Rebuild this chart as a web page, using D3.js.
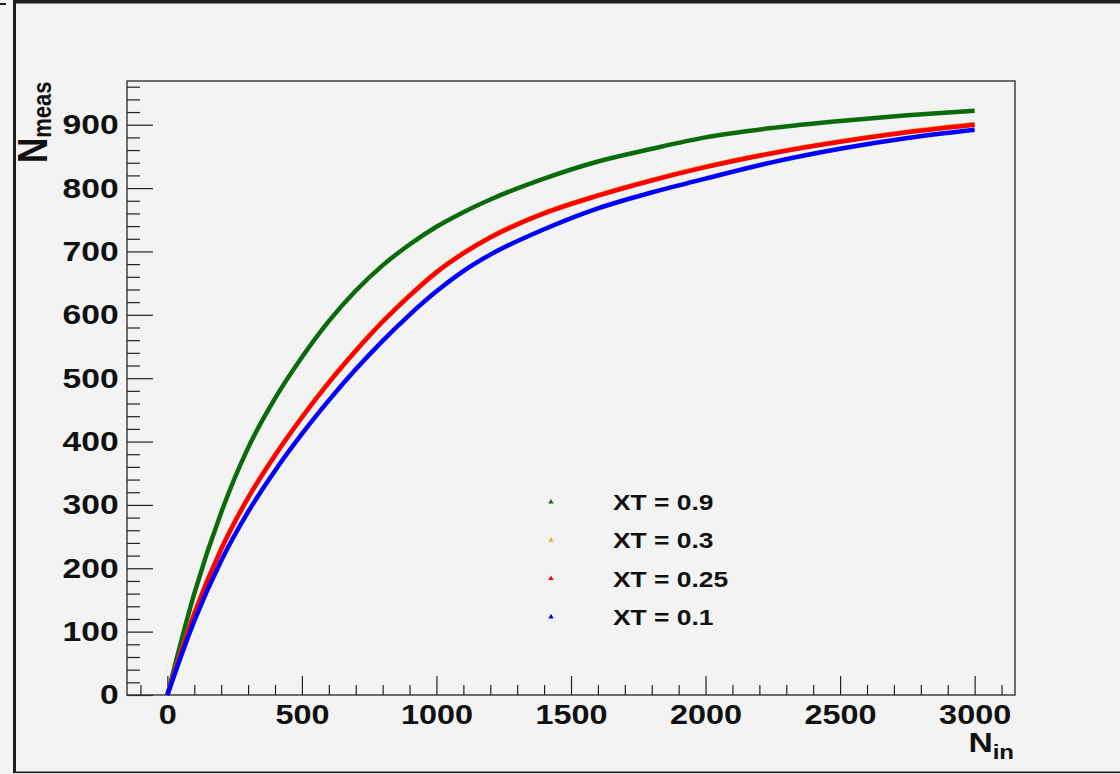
<!DOCTYPE html>
<html>
<head>
<meta charset="utf-8">
<script src="https://cdn.jsdelivr.net/npm/d3@7"></script>
<style>
  html, body { margin: 0; padding: 0; background: #f3f3f3; }
  svg { display: block; }
  text { font-family: "Liberation Sans", Arial, Helvetica, sans-serif; font-weight: bold; fill: #111; }
</style>
</head>
<body>
<div id="chart"></div>
<script>
const nIn = [0, 100, 200, 300, 400, 500, 600, 700, 800, 900, 1000, 1100, 1200, 1400, 1600, 1800, 2000, 2250, 2500, 2750, 3000];

// measured N for each crosstalk setting
const xt09  = [0, 160, 288, 390, 468, 533, 590, 638, 678, 711, 739, 762, 782, 815, 842, 862, 880, 895, 906, 915, 922];
const xt03  = [0, 129, 231, 312, 379, 439, 494, 544, 590, 631, 668, 698, 723, 761, 789, 813, 834, 856, 874, 889, 901];
const xt025 = [0, 128, 230, 311, 378, 438, 493, 543, 589, 630, 667, 697, 722, 760, 788, 812, 833, 855, 873, 888, 900];
const xt01  = [0, 117, 212, 289, 354, 412, 465, 514, 559, 600, 637, 669, 695, 735, 768, 793, 815, 841, 862, 879, 892];

const seriesNames  = ["XT = 0.9", "XT = 0.3", "XT = 0.25", "XT = 0.1"];
const seriesColors = ["#0b6b0b", "#f5a623", "#ff0000", "#0000ff"];

const xMajorTicks = [0, 500, 1000, 1500, 2000, 2500, 3000];
const yMajorTicks = [0, 100, 200, 300, 400, 500, 600, 700, 800, 900];

(function () {
  const W = 1120, H = 774;
  const frame = { left: 127, top: 81, right: 1015, bottom: 695 };
  const stretch = "scale(1.2,1)"; // text in the original is a bit wide

  const svg = d3.select("#chart").append("svg")
    .attr("width", W)
    .attr("height", H);

  svg.append("rect").attr("width", W).attr("height", H).attr("fill", "#f3f3f3");

  // canvas border (offset like the screenshot)
  svg.append("rect").attr("x", 13).attr("y", 0).attr("width", W - 13).attr("height", 3.5).attr("fill", "#1e1e1e");
  svg.append("rect").attr("x", 0).attr("y", 3).attr("width", 6).attr("height", 2).attr("fill", "#1e1e1e");
  svg.append("rect").attr("x", 13).attr("y", 0).attr("width", 3).attr("height", 773).attr("fill", "#1e1e1e");
  svg.append("rect").attr("x", 13).attr("y", 771.5).attr("width", W - 13).attr("height", 1.6).attr("fill", "#1e1e1e");

  const x = d3.scaleLinear().domain([-150, 3150]).range([frame.left, frame.right]);
  const y = d3.scaleLinear().domain([0, 969]).range([frame.bottom, frame.top]);

  // minor ticks
  const xMinor = d3.range(-100, 3101, 100).filter(v => v % 500 !== 0);
  const yMinor = d3.range(0, 961, 20).filter(v => v % 100 !== 0);

  svg.append("g")
    .attr("transform", `translate(0,${frame.bottom})`)
    .call(d3.axisBottom(x).tickValues(xMinor).tickSize(-10).tickSizeOuter(0).tickFormat(""))
    .call(g => g.select(".domain").remove());

  svg.append("g")
    .attr("transform", `translate(${frame.left},0)`)
    .call(d3.axisLeft(y).tickValues(yMinor).tickSize(-13).tickSizeOuter(0).tickFormat(""))
    .call(g => g.select(".domain").remove());

  // major ticks + labels
  const xAxis = svg.append("g")
    .attr("transform", `translate(0,${frame.bottom})`)
    .call(d3.axisBottom(x).tickValues(xMajorTicks).tickSize(-19).tickSizeOuter(0)
      .tickPadding(10).tickFormat(d3.format("d")))
    .call(g => g.select(".domain").remove());
  xAxis.selectAll("text")
    .attr("font-size", 27)
    .attr("transform", stretch);

  const yAxis = svg.append("g")
    .attr("transform", `translate(${frame.left},0)`)
    .call(d3.axisLeft(y).tickValues(yMajorTicks).tickSize(-26).tickSizeOuter(0)
      .tickPadding(7).tickFormat(d3.format("d")))
    .call(g => g.select(".domain").remove());
  yAxis.selectAll("text")
    .attr("font-size", 28)
    .attr("transform", stretch);

  svg.selectAll(".tick line").attr("stroke", "#222").attr("stroke-width", 1.2);
  svg.selectAll(".tick text").style("fill", "#111");

  // frame
  svg.append("rect")
    .attr("x", frame.left).attr("y", frame.top)
    .attr("width", frame.right - frame.left)
    .attr("height", frame.bottom - frame.top)
    .attr("fill", "none")
    .attr("stroke", "#333")
    .attr("stroke-width", 1.4);

  // curves (drawn in legend order, last one on top)
  const allSeries = [xt09, xt03, xt025, xt01];
  const line = d3.line()
    .x((d, i) => x(nIn[i]))
    .y(d => y(d))
    .curve(d3.curveMonotoneX);

  allSeries.forEach((vals, k) => {
    svg.append("path")
      .datum(vals)
      .attr("d", line)
      .attr("fill", "none")
      .attr("stroke", seriesColors[k])
      .attr("stroke-width", 4.5);
  });

  // legend
  const legendY0 = 502, legendStep = 38.3;
  seriesNames.forEach((name, k) => {
    const ly = legendY0 + k * legendStep;
    svg.append("path")
      .attr("d", d3.symbol(d3.symbolTriangle).size(12)())
      .attr("transform", `translate(551,${ly})`)
      .attr("fill", seriesColors[k]);
    svg.append("text")
      .attr("transform", `translate(613,${ly + 8}) ${stretch}`)
      .attr("font-size", 22)
      .text(name);
  });

  // axis titles
  const xt = svg.append("text")
    .attr("transform", `translate(1014,752) ${stretch}`)
    .attr("text-anchor", "end");
  xt.append("tspan").attr("font-size", 28).text("N");
  xt.append("tspan").attr("font-size", 20).attr("dy", 7).text("in");

  const yt = svg.append("text")
    .attr("transform", `translate(47,163) ${stretch} rotate(-90)`);
  yt.append("tspan").attr("font-size", 35).text("N");
  yt.append("tspan").attr("font-size", 22).attr("dy", 3).text("meas");
})();
</script>
</body>
</html>
